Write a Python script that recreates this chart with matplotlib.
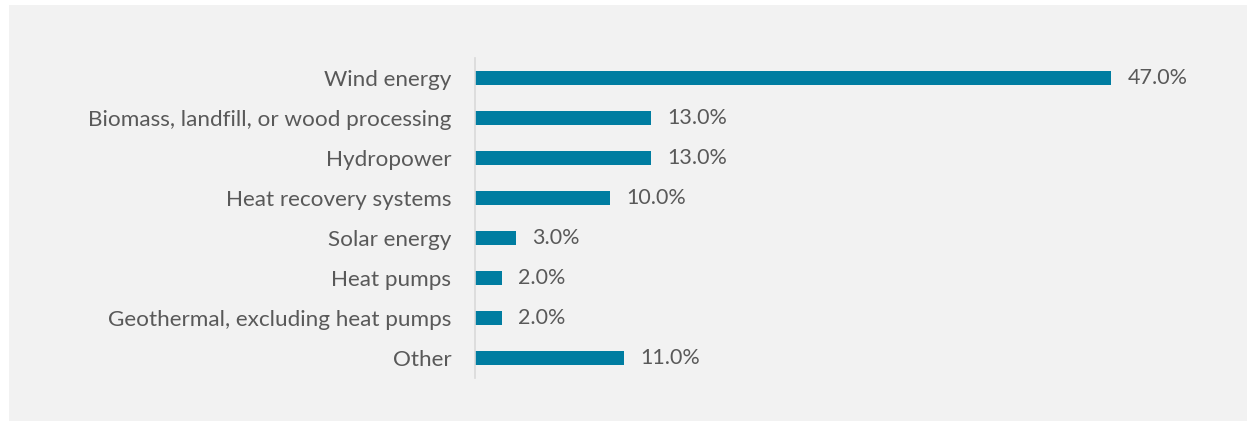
import matplotlib.pyplot as plt
from matplotlib.patches import Rectangle

categories = [
    "Wind energy",
    "Biomass, landfill, or wood processing",
    "Hydropower",
    "Heat recovery systems",
    "Solar energy",
    "Heat pumps",
    "Geothermal, excluding heat pumps",
    "Other",
]
shares = [47.0, 13.0, 13.0, 10.0, 3.0, 2.0, 2.0, 11.0]

bar_color = "#007da1"
text_color = "#595959"
panel_color = "#f2f2f2"

plt.rcParams["font.family"] = ["Lato", "DejaVu Sans"]

W, H = 1254, 421
fig = plt.figure(figsize=(W / 100, H / 100), dpi=100)
fig.patch.set_facecolor("white")

# grey chart area with a thin white border
fig.patches.append(Rectangle((9 / W, 0), (1247 - 9) / W, (H - 5) / H,
                             transform=fig.transFigure, facecolor=panel_color,
                             edgecolor="none", zorder=-1))

ax = fig.add_axes([475 / W, (H - 378) / H, (1152 - 475) / W, (378 - 58) / H])
ax.set_facecolor("none")

y = list(range(len(categories)))
bars = ax.barh(y, shares, height=0.35, color=bar_color)
for rect, v in zip(bars, shares):
    ax.text(v + 1.2, rect.get_y() + rect.get_height() / 2, f"{v:.1f}%",
            va="center", ha="left", fontsize=15.5, color=text_color)

ax.set_xlim(0, 50)
ax.set_ylim(len(categories) - 0.5, -0.5)
ax.set_yticks(y)
ax.set_yticklabels(categories, fontsize=16.2, color=text_color)
ax.tick_params(axis="y", length=0, pad=17)
ax.set_xticks([])

for side in ["top", "right", "bottom"]:
    ax.spines[side].set_visible(False)
ax.spines["left"].set_color("#d9d9d9")
ax.spines["left"].set_linewidth(1.2)

fig.savefig("out.png", dpi=100, facecolor=fig.get_facecolor())
